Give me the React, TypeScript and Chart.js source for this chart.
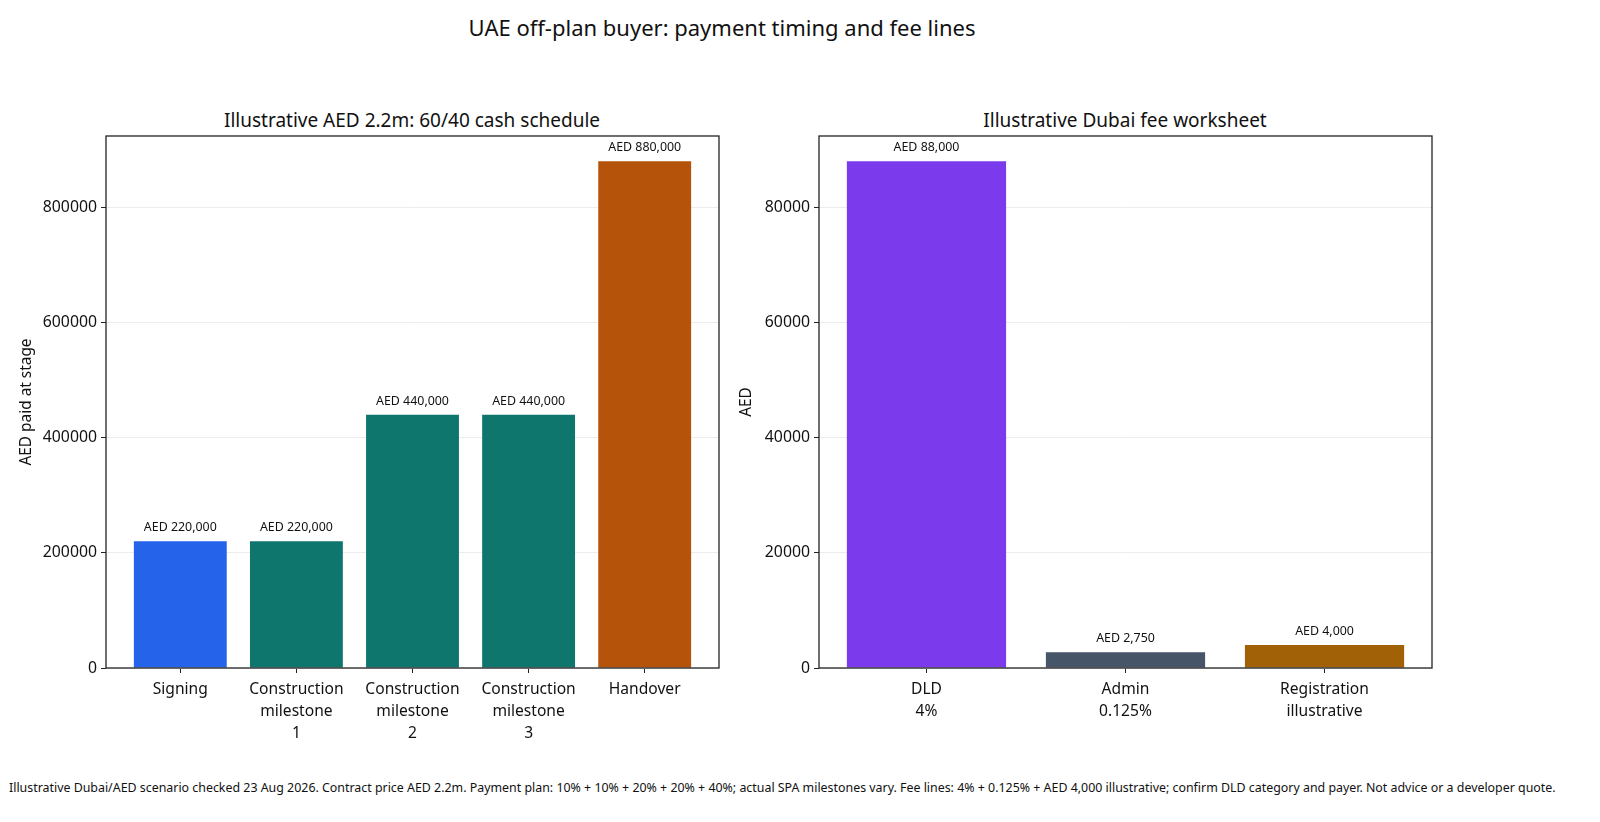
import React, { useEffect, useRef } from 'react';
import Chart from 'chart.js/auto';

const scheduleLabels = [['Signing'], ['Construction', 'milestone', '1'], ['Construction', 'milestone', '2'], ['Construction', 'milestone', '3'], ['Handover']];
const scheduleValues = [220000, 220000, 440000, 440000, 880000];
const scheduleColors = ['#2563eb', '#0f766e', '#0f766e', '#0f766e', '#b45309'];
const scheduleTicks = [0, 200000, 400000, 600000, 800000];

const feeLabels = [['DLD', '4%'], ['Admin', '0.125%'], ['Registration', 'illustrative']];
const feeValues = [88000, 2750, 4000];
const feeColors = ['#7c3aed', '#475569', '#a16207'];
const feeTicks = [0, 20000, 40000, 60000, 80000];

const FONT = "'Noto Sans', sans-serif";

const fmt = (v: number) => 'AED ' + v.toLocaleString('en-US');

// frame around plot + value labels above bars
const framePlugin = {
  id: 'frameAndLabels',
  afterDatasetsDraw(chart: any) {
    const { ctx, chartArea } = chart;
    ctx.save();
    ctx.strokeStyle = '#222';
    ctx.lineWidth = 1.3;
    ctx.strokeRect(chartArea.left, chartArea.top, chartArea.right - chartArea.left, chartArea.bottom - chartArea.top);
    const meta = chart.getDatasetMeta(0);
    const data = chart.data.datasets[0].data;
    ctx.fillStyle = '#111';
    ctx.font = `12.4px ${FONT}`;
    ctx.textAlign = 'center';
    ctx.textBaseline = 'alphabetic';
    meta.data.forEach((bar: any, i: number) => {
      ctx.fillText(fmt(data[i].y), bar.x, bar.y - 10);
    });
    ctx.restore();
  },
};

function BarPanel(props: {
  labels: string[][];
  values: number[];
  colors: string[];
  ticks: number[];
  yMax: number;
  xMin: number;
  xMax: number;
  yTitle: string;
  yWidth: number;
  titlePad: number;
}) {
  const ref = useRef<HTMLCanvasElement>(null);

  useEffect(() => {
    if (!ref.current) return;
    const { labels, values, colors, ticks, yMax, xMin, xMax, yTitle, yWidth, titlePad } = props;
    const chart = new Chart(ref.current, {
      type: 'bar',
      data: {
        datasets: [
          {
            data: values.map((v, i) => ({ x: i, y: v })),
            backgroundColor: colors,
            borderWidth: 0,
            categoryPercentage: 1,
            barPercentage: 0.8,
          },
        ],
      },
      plugins: [framePlugin],
      options: {
        animation: false,
        responsive: false,
        maintainAspectRatio: false,
        layout: { padding: { top: 36, right: 11, left: 0, bottom: 0 } },
        plugins: { legend: { display: false }, tooltip: { enabled: false } },
        scales: {
          x: {
            type: 'linear',
            min: xMin,
            max: xMax,
            offset: false,
            afterBuildTicks: (axis: any) => {
              axis.ticks = labels.map((_, i) => ({ value: i }));
            },
            afterFit: (scale: any) => {
              scale.height = 92;
            },
            grid: { offset: false, drawOnChartArea: false, drawTicks: true, tickLength: 5, tickColor: '#222' },
            border: { display: false },
            ticks: {
              autoSkip: false,
              maxRotation: 0,
              padding: 6,
              color: '#111',
              font: { family: FONT, size: 15.6, lineHeight: 1.41 },
              callback: (v: any) => labels[Math.round(v)],
            },
          },
          y: {
            min: 0,
            max: yMax,
            afterBuildTicks: (axis: any) => {
              axis.ticks = ticks.map((t) => ({ value: t }));
            },
            afterFit: (scale: any) => {
              scale.width = yWidth;
            },
            grid: { color: '#ececec', lineWidth: 1, tickLength: 5, tickColor: '#222' },
            border: { display: false },
            ticks: {
              padding: 4,
              color: '#111',
              font: { family: FONT, size: 15.8 },
              callback: (v: any) => String(v),
            },
            title: {
              display: true,
              text: yTitle,
              color: '#111',
              font: { family: FONT, size: 15.4 },
              padding: { top: titlePad, bottom: 0 },
            },
          },
        },
      },
    });
    return () => chart.destroy();
  }, []);

  return <canvas ref={ref} width={props.yWidth + 613 + 11} height={660} />;
}

export default function App() {
  const text: React.CSSProperties = { position: 'absolute', fontFamily: FONT, color: '#111', whiteSpace: 'nowrap' };
  return (
    <div style={{ position: 'fixed', left: 0, top: 0, width: 1600, height: 822, background: '#fff', overflow: 'hidden' }}>
      <div style={{ ...text, left: 722, top: 27, fontSize: 22, transform: 'translate(-50%, -50%)' }}>
        UAE off-plan buyer: payment timing and fee lines
      </div>
      <div style={{ ...text, left: 412, top: 120, fontSize: 19, transform: 'translate(-50%, -50%)' }}>
        Illustrative AED 2.2m: 60/40 cash schedule
      </div>
      <div style={{ ...text, left: 1125, top: 120, fontSize: 19, transform: 'translate(-50%, -50%)' }}>
        Illustrative Dubai fee worksheet
      </div>
      <div style={{ position: 'absolute', left: 0, top: 100 }}>
        <BarPanel
          labels={scheduleLabels}
          values={scheduleValues}
          colors={scheduleColors}
          ticks={scheduleTicks}
          yMax={924000}
          xMin={-0.64}
          xMax={4.64}
          yTitle="AED paid at stage"
          yWidth={106}
          titlePad={17}
        />
      </div>
      <div style={{ position: 'absolute', left: 730, top: 100 }}>
        <BarPanel
          labels={feeLabels}
          values={feeValues}
          colors={feeColors}
          ticks={feeTicks}
          yMax={92400}
          xMin={-0.54}
          xMax={2.54}
          yTitle="AED"
          yWidth={89}
          titlePad={7}
        />
      </div>
      <div style={{ ...text, left: 9, top: 787, fontSize: 12.4, transform: 'translateY(-50%)' }}>
        Illustrative Dubai/AED scenario checked 23 Aug 2026. Contract price AED 2.2m. Payment plan: 10% + 10% + 20% + 20% + 40%; actual SPA milestones vary. Fee lines: 4% + 0.125% + AED 4,000 illustrative; confirm DLD category and payer. Not advice or a developer quote.
      </div>
    </div>
  );
}
